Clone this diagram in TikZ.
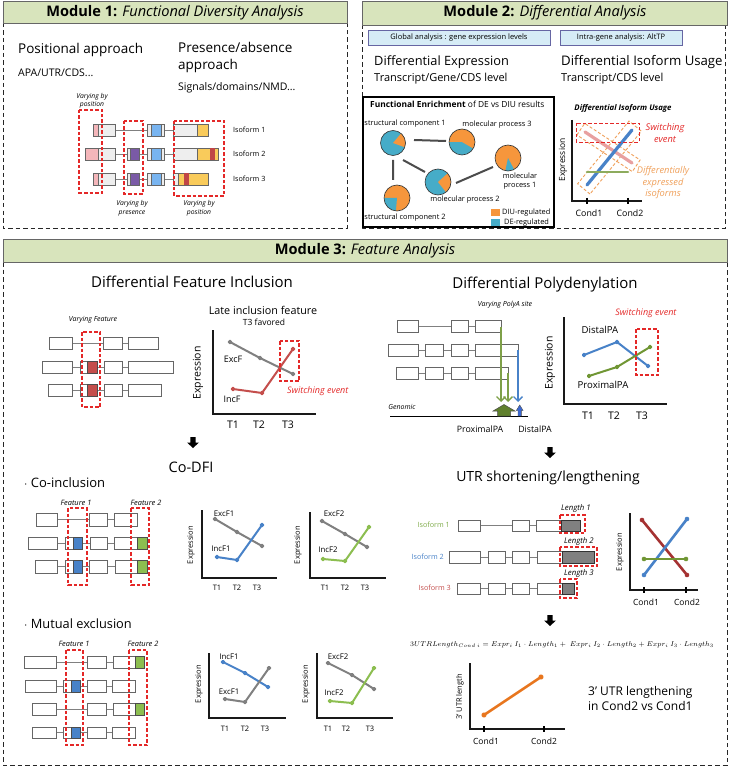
\documentclass[tikz,border=0pt]{standalone}
\usepackage{fontspec}
\setmainfont{Open Sans}
\usetikzlibrary{arrows.meta}
\definecolor{hdrgreen}{RGB}{216,228,188}
\definecolor{boxblue}{RGB}{214,236,246}
\definecolor{pieor}{RGB}{246,150,60}
\definecolor{piebl}{RGB}{70,172,200}
\definecolor{swred}{RGB}{228,40,40}
\definecolor{plgray}{RGB}{128,128,128}
\definecolor{plred}{RGB}{196,78,76}
\definecolor{plblue}{RGB}{72,130,200}
\definecolor{plgreen}{RGB}{140,190,80}
\definecolor{dpgreen}{RGB}{112,150,52}
\definecolor{utrred}{RGB}{165,50,50}
\definecolor{orline}{RGB}{232,118,30}
\definecolor{odash}{RGB}{240,160,90}
\definecolor{pinkl}{RGB}{232,160,160}
\definecolor{exgray}{RGB}{238,238,238}
\definecolor{expink}{RGB}{244,182,186}
\definecolor{exblue}{RGB}{120,180,240}
\definecolor{expurp}{RGB}{122,90,166}
\definecolor{exyel}{RGB}{249,203,91}
\definecolor{exred}{RGB}{192,70,70}
\newcommand\fsz[2]{\fontsize{#1}{#2}\selectfont}
\tikzset{
 hdr/.style={draw=black!60, fill=hdrgreen, line width=0.8pt},
 modbox/.style={draw=black!85, dash pattern=on 4.5pt off 3pt, line width=0.9pt},
 exon/.style={draw=black!60, fill=white, line width=0.6pt},
 exonm/.style={draw=black!60, line width=0.5pt},
 intron/.style={draw=black!50, line width=0.6pt},
 reddash/.style={draw=swred, dash pattern=on 3.5pt off 2pt, line width=1.1pt},
 axisl/.style={draw=black!90, line width=1.6pt},
 ser/.style={line width=2pt, line cap=round, line join=round},
 serthick/.style={line width=3.2pt, line cap=round, line join=round},
 lbl/.style={inner sep=0pt},
 pdot/.style={mark=*, mark size=1.3pt},
 darrow/.pic={\fill[black] (-2.6,0) -- (2.6,0) -- (2.6,5.5) -- (6,5.5) -- (0,11) -- (-6,5.5) -- (-2.6,5.5) -- cycle;},
}
\begin{document}
\begin{tikzpicture}[x=1pt,y=-1pt]
\useasboundingbox (0,0) rectangle (729,767);
\fill[white] (0,0) rectangle (729,767);

%================ MODULE 1 =================
\draw[modbox] (3,23) rectangle (347,228);
\draw[hdr] (3,1) rectangle (347,23);
\node[lbl] (m1h) at (175,12.5) {\fsz{14.6}{16}\textbf{Module 1:} \textit{Functional Diversity Analysis}};
\node[lbl, anchor=west] (m1a) at (18,50) {\fsz{13.5}{15}Positional approach};
\node[lbl, anchor=west] (m1b) at (18,73) {\fsz{10.5}{12}APA/UTR/CDS...};
\node[lbl, anchor=north west, align=left, font=\fsz{13.5}{17}] (m1c) at (178,42) {Presence/absence\\approach};
\node[lbl, anchor=west] (m1d) at (178,88) {\fsz{10.5}{12}Signals/domains/NMD...};
\node[lbl, align=center, font=\fsz{6.8}{8.5}\itshape] (m1e) at (92,100.5) {Varying by\\position};
\node[lbl, align=center, font=\fsz{6.8}{8.5}\itshape] (m1f) at (132,208) {Varying by\\presence};
\node[lbl, align=center, font=\fsz{6.8}{8.5}\itshape] (m1g) at (199,208) {Varying by\\position};
% isoform 1
\draw[intron] (115,130) -- (147,130) (164,130) -- (173,130);
\draw[exonm, fill=expink] (93,124) rectangle (98,136);
\draw[exonm, fill=exgray] (98,124) rectangle (115,136);
\draw[exonm, fill=exgray] (147,124) rectangle (164,136);
\draw[exonm, fill=exblue] (151,124) rectangle (161,136);
\draw[exonm, fill=exgray] (173,124) rectangle (197,136);
\draw[exonm, fill=exyel] (197,124) rectangle (208,136);
% isoform 2
\draw[intron] (115,154) -- (127,154) (139,154) -- (147,154) (164,154) -- (173,154);
\draw[exonm, fill=expink] (85,148) rectangle (98,160);
\draw[exonm, fill=exgray] (98,148) rectangle (115,160);
\draw[exonm, fill=exgray] (127,148) rectangle (130,160);
\draw[exonm, fill=expurp] (130,148) rectangle (139,160);
\draw[exonm, fill=exgray] (147,148) rectangle (164,160);
\draw[exonm, fill=exblue] (151,148) rectangle (161,160);
\draw[exonm, fill=exgray] (173,148) rectangle (197,160);
\draw[exonm, fill=exyel] (197,148) rectangle (218,160);
\fill[exred] (210,148.3) rectangle (215,159.7);
% isoform 3
\draw[intron] (115,179) -- (127,179) (139,179) -- (147,179) (164,179) -- (173,179);
\draw[exonm, fill=expink] (93,173) rectangle (98,185);
\draw[exonm, fill=exgray] (98,173) rectangle (115,185);
\draw[exonm, fill=exgray] (127,173) rectangle (130,185);
\draw[exonm, fill=expurp] (130,173) rectangle (139,185);
\draw[exonm, fill=exgray] (147,173) rectangle (164,185);
\draw[exonm, fill=exblue] (151,173) rectangle (161,185);
\draw[exonm, fill=exgray] (173,173) rectangle (178,185);
\draw[exonm, fill=exyel] (178,173) rectangle (208,185);
\fill[exred] (184,173.3) rectangle (189,184.7);
\draw[reddash] (79,110) rectangle (102,193);
\draw[reddash] (124,121) rectangle (143,194);
\draw[reddash] (174,121) rectangle (224,196);
\node[lbl, anchor=west] (iso1) at (233,130) {\fsz{7.2}{8}Isoform 1};
\node[lbl, anchor=west] (iso2) at (233,154) {\fsz{7.2}{8}Isoform 2};
\node[lbl, anchor=west] (iso3) at (233,179) {\fsz{7.2}{8}Isoform 3};

%================ MODULE 2 =================
\draw[modbox] (362,25) rectangle (725,228);
\draw[hdr] (362,1) rectangle (727,25);
\node[lbl] (m2h) at (545,13) {\fsz{14.6}{16}\textbf{Module 2:} \textit{Differential Analysis}};
\node[draw=black!60!blue!60, fill=boxblue, line width=0.7pt, minimum width=182pt, minimum height=15pt, inner sep=0pt] (gbox) at (459,37.5) {\fsz{7.5}{9}Global analysis : gene expression levels};
\node[draw=black!60!blue!60, fill=boxblue, line width=0.7pt, minimum width=122pt, minimum height=15pt, inner sep=0pt] (ibox) at (621,37.5) {\fsz{7.5}{9}Intra-gene analysis: AltTP};
\node[lbl, anchor=west] (de) at (374,62) {\fsz{12.8}{15}Differential Expression};
\node[lbl, anchor=west] (del) at (374,79) {\fsz{11}{13}Transcript/Gene/CDS level};
\node[lbl, anchor=west] (diu) at (561,62) {\fsz{13.2}{15}Differential Isoform Usage};
\node[lbl, anchor=west] (diul) at (561,79) {\fsz{11}{13}Transcript/CDS level};
% functional enrichment box
\draw[black, line width=1.1pt] (363,97) rectangle (554,227);
\node[lbl, anchor=west] (fe) at (370,104) {\fsz{8.4}{10}\textbf{Functional Enrichment} of DE vs DIU results};
\draw[black!70, line width=2pt] (414,140) -- (446,141) (393,160) -- (393,180) (403,160) -- (425,172) (456,183) -- (493,167);
% pies
\fill[piebl] (393,143) circle (12.5);
\fill[pieor] (393,143) -- ++(-50:12.5) arc[start angle=-50, end angle=20, radius=12.5] -- cycle;
\draw[black!80, line width=0.6pt] (393,143) circle (12.5);
\fill[piebl] (462,142) circle (13);
\fill[pieor] (462,142) -- ++(-180:13) arc[start angle=-180, end angle=30, radius=13] -- cycle;
\draw[black!80, line width=0.6pt] (462,142) circle (13);
\fill[pieor] (508,158) circle (13);
\fill[piebl] (508,158) -- ++(62:13) arc[start angle=62, end angle=102, radius=13] -- cycle;
\draw[black!80, line width=0.6pt] (508,158) circle (13);
\fill[piebl] (438,182) circle (13);
\fill[pieor] (438,182) -- ++(-42:13) arc[start angle=-42, end angle=52, radius=13] -- cycle;
\draw[black!80, line width=0.6pt] (438,182) circle (13);
\fill[pieor] (397,198) circle (13);
\fill[piebl] (397,198) -- ++(95:13) arc[start angle=95, end angle=180, radius=13] -- cycle;
\draw[black!80, line width=0.6pt] (397,198) circle (13);
\node[lbl] (sc1) at (405,124) {\fsz{7.4}{8.5}structural component 1};
\node[lbl] (mp3) at (497,125) {\fsz{7.4}{8.5}molecular process 3};
\node[lbl, align=center, font=\fsz{7.4}{9}] (mp1) at (520,181) {molecular\\process 1};
\node[lbl] (mp2) at (465,200) {\fsz{7.4}{8.5}molecular process 2};
\node[lbl] (sc2) at (405,218) {\fsz{7.4}{8.5}structural component 2};
\fill[pieor] (491,209) rectangle (500,216);
\fill[piebl] (491,219) rectangle (500,226);
\node[lbl, anchor=west] (lg1) at (502,212.5) {\fsz{7.4}{8.5}DIU-regulated};
\node[lbl, anchor=west] (lg2) at (504,222.5) {\fsz{7.4}{8.5}DE-regulated};
% DIU plot
\node[lbl] (diut) at (623,108) {\fsz{7.8}{9}\textbf{\textit{Differential Isoform Usage}}};
\draw[axisl] (572,120) -- (572,201) -- (642,201);
\draw[black, line width=2.2pt] (587,198) -- (587,204) (628,198) -- (628,204);
\node[lbl] (c1) at (589,213) {\fsz{8.8}{10}Cond1};
\node[lbl] (c2) at (630,213) {\fsz{8.8}{10}Cond2};
\node[lbl, rotate=90] (diuy) at (563,160) {\fsz{8.5}{10}Expression};
\draw[odash, dash pattern=on 3pt off 2pt, line width=0.9pt] (590,194) -- (577.6,183.8) -- (629,121) -- (641.4,131.2) -- cycle;
\draw[odash, dash pattern=on 3pt off 2pt, line width=0.9pt] (576.9,135) -- (584.7,123.4) -- (640.1,160) -- (632.3,171.6) -- cycle;
\draw[serthick, pinkl] (585,132) -- (632,163);
\draw[serthick, plblue] (587,185) -- (632,130);
\draw[ser, line width=2.6pt, dpgreen!80] (587,172) -- (628,172);
\draw[reddash, line width=0.9pt] (576,123) rectangle (639,142);
\node[lbl, align=center, text=swred, font=\fsz{9.3}{11.5}\itshape] (sw1) at (665,133) {Switching\\event};
\node[lbl, align=center, text=odash, font=\fsz{9.3}{11.5}\itshape] (dei) at (663,183) {Differentially\\expressed\\isoforms};

%================ MODULE 3 =================
\draw[modbox] (3,262) rectangle (727,765);
\draw[hdr] (3,239) rectangle (727,262);
\node[lbl] (m3h) at (365,250.5) {\fsz{14.6}{16}\textbf{Module 3:} \textit{Feature Analysis}};

% ---- DFI
\node[lbl] (dfi) at (192,282) {\fsz{15}{17}Differential Feature Inclusion};
\node[lbl] (vf) at (93,320) {\fsz{7}{8}\textit{Varying Feature}};
\draw[intron] (72,343) -- (103,343) (122,343) -- (128,343);
\draw[exon] (49,337) rectangle (72,349);
\draw[exon] (103,337) rectangle (122,349);
\draw[exon] (128,337) rectangle (158,349);
\draw[intron] (72,367) -- (80,367) (97,367) -- (104,367) (122,367) -- (128,367);
\draw[exon] (42,361) rectangle (72,373);
\draw[exon] (80,361) rectangle (87,373);
\draw[black!70, fill=plred, line width=0.6pt] (87,361) rectangle (97,373);
\draw[exon] (104,361) rectangle (122,373);
\draw[exon] (128,361) rectangle (173,373);
\draw[intron] (72,390) -- (80,390) (97,390) -- (104,390) (122,390) -- (128,390);
\draw[exon] (48,384) rectangle (72,396);
\draw[exon] (80,384) rectangle (87,396);
\draw[black!70, fill=plred, line width=0.6pt] (87,384) rectangle (97,396);
\draw[exon] (104,384) rectangle (122,396);
\draw[exon] (128,384) rectangle (161,396);
\draw[reddash] (82,332) rectangle (100,407);
% DFI plot
\node[lbl] (lif) at (263,310) {\fsz{10.8}{12}Late inclusion feature};
\node[lbl] (t3f) at (264,322) {\fsz{8.5}{10}T3 favored};
\draw[axisl] (213,330) -- (213,414) -- (316,414);
\node[lbl, rotate=90] (dfiy) at (198,373) {\fsz{10.5}{12}Expression};
\node[lbl] (dt1) at (233,425) {\fsz{10.5}{12}T1};
\node[lbl] (dt2) at (259,425) {\fsz{10.5}{12}T2};
\node[lbl] (dt3) at (288,425) {\fsz{10.5}{12}T3};
\draw[ser, plgray] plot[pdot] coordinates {(230,342) (260,358) (293,374)};
\draw[ser, plred] plot[pdot] coordinates {(233,389) (262,393) (293,349)};
\node[lbl] (excf) at (233,359) {\fsz{9}{10}ExcF};
\node[lbl] (incf) at (232,399) {\fsz{9}{10}IncF};
\draw[reddash] (280,341) rectangle (299,381);
\node[lbl, anchor=west, text=swred] (swd) at (287,391) {\fsz{9}{10}\textit{Switching event}};
\pic at (193,437) {darrow};

% ---- DP
\node[lbl] (dp) at (545,285) {\fsz{15}{17}Differential Polydenylation};
\node[lbl] (vp) at (505,305) {\fsz{7}{8}\textit{Varying PolyA site}};
\draw[intron] (418,326) -- (451,326) (468,326) -- (475,326);
\draw[exon] (397,320) rectangle (418,332);
\draw[exon] (451,320) rectangle (468,332);
\draw[exon] (475,320) rectangle (501,332);
\draw[intron] (418,350) -- (425,350) (443,350) -- (451,350) (468,350) -- (475,350);
\draw[exon] (388,344) rectangle (418,356);
\draw[exon] (425,344) rectangle (443,356);
\draw[exon] (451,344) rectangle (468,356);
\draw[exon] (475,344) rectangle (518,356);
\draw[intron] (418,373) -- (425,373) (443,373) -- (451,373) (468,373) -- (475,373);
\draw[exon] (396,367) rectangle (418,379);
\draw[exon] (425,367) rectangle (443,379);
\draw[exon] (451,367) rectangle (468,379);
\draw[exon] (475,367) rectangle (508,379);
\draw[dpgreen!90, line width=1.3pt, -{Straight Barb[length=4.5pt,width=9pt]}] (501,327) -- (501,402);
\draw[dpgreen!90, line width=1.3pt, -{Straight Barb[length=4.5pt,width=9pt]}] (508,373) -- (508,402);
\draw[plblue, line width=1.3pt, -{Straight Barb[length=4.5pt,width=9pt]}] (518,350) -- (518,402);
\node[lbl] (gen) at (402,407) {\fsz{7}{8}\textit{Genomic}};
\draw[black, line width=0.6pt] (390,416) -- (528,416);
\draw[black!70, fill=dpgreen!85!black, line width=0.5pt] (497.5,416) -- (497.5,411) -- (493,411) -- (504,404.5) -- (515,411) -- (510.5,411) -- (510.5,416) -- cycle;
\draw[black!70, fill=plblue!80!blue, line width=0.4pt] (518,416) -- (518,410.5) -- (516.3,410.5) -- (519.7,405) -- (523.1,410.5) -- (521.4,410.5) -- (521.4,416) -- cycle;
\node[lbl] (ppa) at (480,429) {\fsz{8.8}{10}ProximalPA};
\node[lbl] (dpa) at (535,429) {\fsz{8.8}{10}DistalPA};
% DP plot
\draw[axisl] (564,317) -- (564,404) -- (667,404);
\node[lbl, rotate=90] (dpy) at (550,363) {\fsz{10.5}{12}Expression};
\node[lbl] (pt1) at (588,416) {\fsz{10.5}{12}T1};
\node[lbl] (pt2) at (614,416) {\fsz{10.5}{12}T2};
\node[lbl] (pt3) at (642,416) {\fsz{10.5}{12}T3};
\draw[ser, plblue] plot[pdot] coordinates {(584,355) (617,342) (648,366)};
\draw[ser, dpgreen] plot[pdot] coordinates {(589,376) (617,367) (650,347)};
\node[lbl] (dpl) at (600,330) {\fsz{9.6}{11}DistalPA};
\node[lbl] (ppl) at (603,385) {\fsz{9.6}{11}ProximalPA};
\draw[reddash] (636,329) rectangle (658,375);
\node[lbl, text=swred] (swp) at (646,313) {\fsz{9}{10}\textit{Switching event}};
\pic at (550,447) {darrow};

% ---- Co-DFI
\node[lbl] (codfi) at (191,467) {\fsz{14.5}{16}Co-DFI};
\node[lbl, anchor=west] (coinc) at (24,483) {\fsz{13}{15}$\cdot$ Co-inclusion};
\node[lbl] (cf1) at (76,503) {\fsz{7.4}{8}\textit{Feature 1}};
\node[lbl] (cf2) at (146,503) {\fsz{7.4}{8}\textit{Feature 2}};
\draw[intron] (57,519.5) -- (89,519.5) (107,519.5) -- (114,519.5);
\draw[exon] (36,513) rectangle (57,526);
\draw[exon] (89,513) rectangle (107,526);
\draw[exon] (114,513) rectangle (137,526);
\draw[intron] (57,543) -- (65,543) (82,543) -- (90,543) (107,543) -- (114,543);
\draw[exon] (28,537) rectangle (57,549);
\draw[exon] (65,537) rectangle (73,549);
\draw[black!70, fill=plblue, line width=0.6pt] (73,537) rectangle (82,549);
\draw[exon] (90,537) rectangle (107,549);
\draw[exon] (114,537) rectangle (137,549);
\draw[black!70, fill=plgreen, line width=0.6pt] (137,537) rectangle (147,549);
\draw[intron] (57,566.5) -- (65,566.5) (82,566.5) -- (89,566.5) (107,566.5) -- (115,566.5);
\draw[exon] (35,560) rectangle (57,573);
\draw[exon] (65,560) rectangle (73,573);
\draw[black!70, fill=plblue, line width=0.6pt] (73,560) rectangle (82,573);
\draw[exon] (89,560) rectangle (107,573);
\draw[exon] (115,560) rectangle (137,573);
\draw[black!70, fill=plgreen, line width=0.6pt] (137,560) rectangle (147,573);
\draw[reddash] (68,508) rectangle (87,585);
\draw[reddash] (131,508) rectangle (149,585);
% plot 1
\draw[axisl] (202,510) -- (202,578) -- (277,578);
\node[lbl, rotate=90] (ey1) at (191,545) {\fsz{7.5}{8}Expression};
\node[lbl] (a1) at (217,588) {\fsz{7.5}{8}T1};
\node[lbl] (a2) at (237,588) {\fsz{7.5}{8}T2};
\node[lbl] (a3) at (257,588) {\fsz{7.5}{8}T3};
\draw[ser, plgray] plot[pdot] coordinates {(215,519) (237,532) (262,546)};
\draw[ser, plblue] plot[pdot] coordinates {(217,557) (237,560) (262,525)};
\node[lbl] (ex1) at (224,514) {\fsz{7.8}{9}ExcF1};
\node[lbl] (in1) at (221,549) {\fsz{7.8}{9}IncF1};
% plot 2
\draw[axisl] (310,512) -- (310,578) -- (386,578);
\node[lbl, rotate=90] (ey2) at (298,545) {\fsz{7.5}{8}Expression};
\node[lbl] (b1) at (325,588) {\fsz{7.5}{8}T1};
\node[lbl] (b2) at (345,588) {\fsz{7.5}{8}T2};
\node[lbl] (b3) at (365,588) {\fsz{7.5}{8}T3};
\draw[ser, plgray] plot[pdot] coordinates {(322,521) (345,534) (367,547)};
\draw[ser, plgreen] plot[pdot] coordinates {(323,559) (345,561) (369,527)};
\node[lbl] (ex2) at (334,514) {\fsz{7.8}{9}ExcF2};
\node[lbl] (in2) at (328,550) {\fsz{7.8}{9}IncF2};

% ---- Mutual exclusion
\node[lbl, anchor=west] (mutex) at (24,624) {\fsz{12.8}{15}$\cdot$ Mutual exclusion};
\node[lbl] (mf1) at (74,644) {\fsz{7.4}{8}\textit{Feature 1}};
\node[lbl] (mf2) at (143,644) {\fsz{7.4}{8}\textit{Feature 2}};
\draw[intron] (56,662) -- (87,662) (106,662) -- (113,662);
\draw[exon] (24,656) rectangle (56,668);
\draw[exon] (87,656) rectangle (106,668);
\draw[exon] (113,656) rectangle (135,668);
\draw[black!70, fill=plgreen, line width=0.6pt] (135,656) rectangle (144,668);
\draw[intron] (56,686) -- (63,686) (80,686) -- (87,686) (106,686) -- (112,686);
\draw[exon] (25,680) rectangle (56,692);
\draw[exon] (63,680) rectangle (71,692);
\draw[black!70, fill=plblue, line width=0.6pt] (71,680) rectangle (80,692);
\draw[exon] (87,680) rectangle (106,692);
\draw[exon] (112,680) rectangle (135,692);
\draw[intron] (56,709) -- (87,709) (106,709) -- (113,709);
\draw[exon] (32,703) rectangle (56,715);
\draw[exon] (87,703) rectangle (106,715);
\draw[exon] (113,703) rectangle (135,715);
\draw[black!70, fill=plgreen, line width=0.6pt] (135,703) rectangle (144,715);
\draw[intron] (56,732.5) -- (63,732.5) (80,732.5) -- (87,732.5) (106,732.5) -- (112,732.5);
\draw[exon] (32,727) rectangle (56,738);
\draw[exon] (63,727) rectangle (71,738);
\draw[black!70, fill=plblue, line width=0.6pt] (71,727) rectangle (80,738);
\draw[exon] (87,727) rectangle (106,738);
\draw[exon] (112,727) rectangle (135,738);
\draw[reddash] (66,650) rectangle (83,745);
\draw[reddash] (129,650) rectangle (147,745);
% plot 3
\draw[axisl] (209,653) -- (209,718) -- (286,718);
\node[lbl, rotate=90] (ey3) at (199,684) {\fsz{7.5}{8}Expression};
\node[lbl] (c31) at (225,729) {\fsz{7.5}{8}T1};
\node[lbl] (c32) at (245,729) {\fsz{7.5}{8}T2};
\node[lbl] (c33) at (265,729) {\fsz{7.5}{8}T3};
\draw[ser, plblue] plot[pdot] coordinates {(223,662) (245,673) (268,687)};
\draw[ser, plgray] plot[pdot] coordinates {(225,699) (245,702) (269,668)};
\node[lbl] (in3) at (229,657) {\fsz{7.8}{9}IncF1};
\node[lbl] (ex3) at (229,692) {\fsz{7.8}{9}ExcF1};
% plot 4
\draw[axisl] (317,653) -- (317,718) -- (393,718);
\node[lbl, rotate=90] (ey4) at (306,684) {\fsz{7.5}{8}Expression};
\node[lbl] (d41) at (328,729) {\fsz{7.5}{8}T1};
\node[lbl] (d42) at (346,729) {\fsz{7.5}{8}T2};
\node[lbl] (d43) at (370,729) {\fsz{7.5}{8}T3};
\draw[ser, plgray] plot[pdot] coordinates {(328,663) (352,675) (374,689)};
\draw[ser, plgreen] plot[pdot] coordinates {(330,701) (352,703) (374,668)};
\node[lbl] (ex4) at (338,657) {\fsz{7.8}{9}ExcF2};
\node[lbl] (in4) at (334,693) {\fsz{7.8}{9}IncF2};

% ---- UTR
\node[lbl] (utr) at (548,478) {\fsz{14}{16}UTR shortening/lengthening};
\node[lbl, anchor=east, text=plgreen!90!black] (ui1) at (450,525) {\fsz{7.2}{8}Isoform 1};
\node[lbl, anchor=east, text=plblue] (ui2) at (444,557) {\fsz{7.2}{8}Isoform 2};
\node[lbl, anchor=east, text=plred] (ui3) at (451,588) {\fsz{7.2}{8}Isoform 3};
\draw[intron] (480,525.5) -- (512,525.5) (529,525.5) -- (536,525.5);
\draw[exon] (458,520) rectangle (480,531);
\draw[exon] (512,520) rectangle (529,531);
\draw[exon] (536,520) rectangle (561,531);
\draw[black!80, fill=black!50, line width=0.6pt] (561,520) rectangle (580,531);
\draw[intron] (480,557) -- (488,557) (505,557) -- (512,557) (529,557) -- (537,557);
\draw[exon] (449,551) rectangle (480,563);
\draw[exon] (488,551) rectangle (505,563);
\draw[exon] (512,551) rectangle (529,563);
\draw[exon] (537,551) rectangle (562,563);
\draw[black!80, fill=black!50, line width=0.6pt] (562,551) rectangle (594,563);
\draw[intron] (480,588.5) -- (488,588.5) (505,588.5) -- (512,588.5) (529,588.5) -- (537,588.5);
\draw[exon] (457,583) rectangle (480,594);
\draw[exon] (488,583) rectangle (505,594);
\draw[exon] (512,583) rectangle (529,594);
\draw[exon] (537,583) rectangle (562,594);
\draw[black!80, fill=black!50, line width=0.6pt] (562,583) rectangle (574,594);
\draw[reddash] (560,515) rectangle (585,533);
\draw[reddash] (560,547) rectangle (597,566);
\draw[reddash] (560,579) rectangle (577,598);
\node[lbl] (l1) at (576,508) {\fsz{7.8}{9}\textit{Length 1}};
\node[lbl] (l2) at (579,541) {\fsz{7.8}{9}\textit{Length 2}};
\node[lbl] (l3) at (579,573) {\fsz{7.8}{9}\textit{Length 3}};
% UTR plot
\draw[axisl] (630,513) -- (630,590) -- (698,590);
\draw[black, line width=2.2pt] (644,587) -- (644,593) (686,587) -- (686,593);
\node[lbl] (uc1) at (646,602) {\fsz{8.5}{10}Cond1};
\node[lbl] (uc2) at (687,602) {\fsz{8.5}{10}Cond2};
\node[lbl, rotate=90] (uy) at (620,552) {\fsz{7.5}{8}Expression};
\draw[serthick, line width=2.6pt, utrred] plot[pdot, mark size=1.2pt] coordinates {(642,520) (687,575)};
\draw[serthick, line width=2.6pt, plblue] plot[pdot, mark size=1.2pt] coordinates {(644,575) (687,519)};
\draw[serthick, line width=2.6pt, dpgreen] plot[pdot, mark size=1.2pt] coordinates {(644,559) (686,559)};
\pic at (550,615) {darrow};

% ---- formula & length plot
\node[lbl] (form) at (562,645) {\fsz{7.2}{9}$3UTRLength_{Cond\ i} = Expr_i\ I_1\cdot Length_1 +\ Expr_i\ I_2\cdot Length_2 + Expr_i\ I_3\cdot Length_3$};
\draw[axisl] (470,663) -- (470,729) -- (565,729);
\draw[black, line width=2.2pt] (484,726) -- (484,732) (544,726) -- (544,732);
\node[lbl] (lc1) at (486,741) {\fsz{8.5}{10}Cond1};
\node[lbl] (lc2) at (544,741) {\fsz{8.5}{10}Cond2};
\node[lbl, rotate=90] (ly) at (460,697) {\fsz{7.5}{8}3' UTR length};
\draw[serthick, line width=2.6pt, orline] plot[pdot, mark size=1.5pt] coordinates {(484,715) (541,677)};
\node[lbl, anchor=west, align=left, font=\fsz{12}{15}] (ulen) at (588,698) {3' UTR lengthening\\in Cond2 vs Cond1};
\end{tikzpicture}
\end{document}
